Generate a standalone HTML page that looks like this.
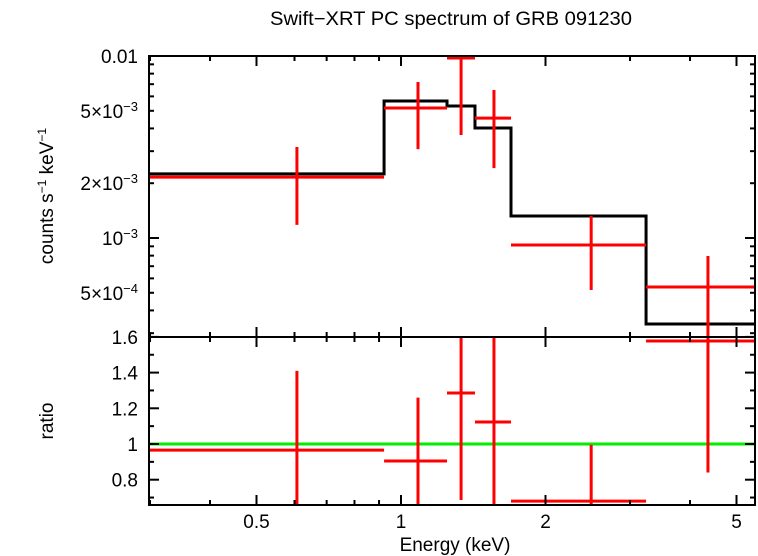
<!DOCTYPE html>
<html><head><meta charset="utf-8"><style>
body{margin:0;background:#fff}
svg{display:block;font-family:"Liberation Sans",sans-serif}
</style></head><body>
<svg id="chart" width="758" height="556" viewBox="0 0 758 556" xmlns="http://www.w3.org/2000/svg">
<text x="451" y="25" font-size="19" text-anchor="middle" textLength="362" lengthAdjust="spacingAndGlyphs">Swift−XRT PC spectrum of GRB 091230</text>
<text x="455" y="551" font-size="19" text-anchor="middle">Energy (keV)</text>
<text transform="translate(53,196) rotate(-90)" font-size="19" text-anchor="middle">counts s<tspan font-size="12" dy="-7">−1</tspan><tspan dy="7"> keV</tspan><tspan font-size="12" dy="-7">−1</tspan></text>
<text transform="translate(53,421) rotate(-90)" font-size="19" text-anchor="middle">ratio</text>
<g id="plot"></g>
</svg>
<script>
const binLo = [0.299, 0.922, 1.247, 1.426, 1.695, 3.24];
const binHi = [0.922, 1.247, 1.426, 1.695, 3.24, 5.46];
const binCenter = [0.607, 1.085, 1.334, 1.562, 2.49, 4.36];
const rate = [2.16e-3, 5.18e-3, 9.75e-3, 4.56e-3, 9.15e-4, 5.38e-4];
const rateHi = [3.16e-3, 7.2e-3, 1.2e-2, 6.5e-3, 1.32e-3, 7.96e-4];
const rateLo = [1.18e-3, 3.08e-3, 3.68e-3, 2.42e-3, 5.18e-4, 2.0e-4];
const modelEdges = [0.299, 0.922, 1.247, 1.426, 1.695, 3.24, 5.46];
const modelVals = [2.25e-3, 5.66e-3, 5.31e-3, 4.02e-3, 1.32e-3, 3.37e-4];
const ratio = [0.966, 0.905, 1.286, 1.123, 0.68, 1.577];
const ratioHi = [1.41, 1.26, 1.7, 1.7, 0.995, 1.7];
const ratioLo = [0.6, 0.6, 0.686, 0.6, 0.6, 0.84];
const xTicksMajor = [0.5, 1, 2, 5];
const xTickLabels = ["0.5", "1", "2", "5"];
const xTicksMinor = [0.3,0.4,0.6,0.7,0.8,0.9,3,4];
const ratioTicks = [0.8, 1.0, 1.2, 1.4, 1.6];
const ratioTickLabels = ["0.8", "1", "1.2", "1.4", "1.6"];

const L=149,R=755,T1=56,B1=337,T2=337,B2=505;
const sx=e=>401+480*Math.log10(e);
const sy1=v=>238-182*(Math.log10(v)+3);
const sy2=r=>444-178.5*(r-1);
const NS="http://www.w3.org/2000/svg";
const g=document.getElementById('plot');
function el(tag,attrs,parent){const e=document.createElementNS(NS,tag);for(const k in attrs)e.setAttribute(k,attrs[k]);(parent||g).appendChild(e);return e;}
function line(x1,y1,x2,y2,c,w,name){const e=el('line',{x1,y1,x2,y2,stroke:c,'stroke-width':w});

return e;}

const defs=el('defs',{});
const c1=el('clipPath',{id:'c1'},defs);el('rect',{x:L,y:T1,width:R-L,height:B1-T1},c1);
const c2=el('clipPath',{id:'c2'},defs);el('rect',{x:L,y:T2,width:R-L,height:B2-T2},c2);
const g1=el('g',{'clip-path':'url(#c1)'});
const g2=el('g',{'clip-path':'url(#c2)'});

let d='';
for(let i=0;i<modelVals.length;i++){const y=sy1(modelVals[i]);d+=(i?'L':'M')+sx(modelEdges[i])+','+y+'L'+sx(modelEdges[i+1])+','+y;}
const mp=el('path',{d,fill:'none',stroke:'#000','stroke-width':3},g1);



const ul=el('line',{x1:L,x2:R,y1:sy2(1),y2:sy2(1),stroke:'#00ee00','stroke-width':3},g2);



for(let i=0;i<rate.length;i++){
  const a=line(sx(binLo[i]),sy1(rate[i]),sx(binHi[i]),sy1(rate[i]),'#f00',3,'data-point-'+i);g1.appendChild(a);
  const b=line(sx(binCenter[i]),sy1(rateHi[i]),sx(binCenter[i]),sy1(rateLo[i]),'#f00',3,'data-error-'+i);g1.appendChild(b);
  const c=line(sx(binLo[i]),sy2(ratio[i]),sx(binHi[i]),sy2(ratio[i]),'#f00',3,'ratio-point-'+i);g2.appendChild(c);
  const e=line(sx(binCenter[i]),sy2(ratioHi[i]),sx(binCenter[i]),sy2(ratioLo[i]),'#f00',3,'ratio-error-'+i);g2.appendChild(e);
}

[[T1,B1,'top-panel-frame'],[T2,B2,'bottom-panel-frame']].forEach(([t,b,n])=>{const r=el('rect',{x:L,y:t,width:R-L,height:b-t,fill:'none',stroke:'#000','stroke-width':2});

});

[[T1,B1],[T2,B2]].forEach(([t,b])=>{
  xTicksMajor.forEach(v=>{const x=sx(v);line(x,t,x,t+10,'#000',2,'x-major-tick');line(x,b,x,b-10,'#000',2,'x-major-tick');});
  xTicksMinor.forEach(v=>{const x=sx(v);line(x,t,x,t+5,'#000',2,'x-minor-tick');line(x,b,x,b-5,'#000',2,'x-minor-tick');});
});
xTicksMajor.forEach((v,i)=>{const t=el('text',{x:sx(v),y:528,'font-size':19,'text-anchor':'middle'});t.textContent=xTickLabels[i];

});

for(let dec=-4;dec<=-2;dec++){for(let m=1;m<10;m++){const v=m*Math.pow(10,dec);if(v<2.86e-4||v>0.0101)continue;const y=sy1(v);const len=m===1?10:5;line(L,y,L+len,y,'#000',2,'top-y-tick');line(R,y,R-len,y,'#000',2,'top-y-tick');}}
function ylab(y,html,name){const t=el('text',{x:138,y:y+7,'font-size':19,'text-anchor':'end'});t.innerHTML=html;

}
ylab(sy1(0.01),'0.01','y-tick-label-0.01');
ylab(sy1(5e-3),'5×10<tspan font-size="13" dy="-7">−3</tspan>','y-tick-label-5e-3');
ylab(sy1(2e-3),'2×10<tspan font-size="13" dy="-7">−3</tspan>','y-tick-label-2e-3');
ylab(sy1(1e-3),'10<tspan font-size="13" dy="-7">−3</tspan>','y-tick-label-1e-3');
ylab(sy1(5e-4),'5×10<tspan font-size="13" dy="-7">−4</tspan>','y-tick-label-5e-4');

for(let r=0.7;r<=1.61;r+=0.1){const y=sy2(r);const major=Math.abs((r*10)%2)<0.01||Math.abs((r*10)%2-2)<0.01;const len=major?10:5;line(L,y,L+len,y,'#000',2,'ratio-y-tick');line(R,y,R-len,y,'#000',2,'ratio-y-tick');}
ratioTicks.forEach((v,i)=>ylab(sy2(v),ratioTickLabels[i],'ratio-tick-label'));
</script>
</body></html>
